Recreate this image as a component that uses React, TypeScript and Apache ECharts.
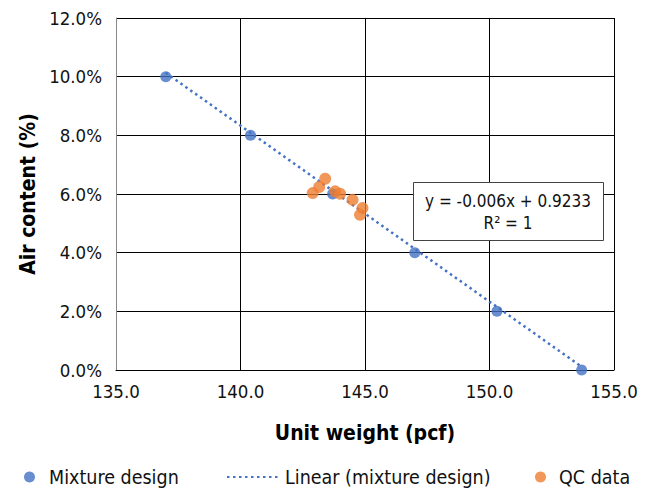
import React, { useEffect, useRef } from "react";
import * as echarts from "echarts";

const mixtureX = [137.0, 140.4, 143.7, 147.0, 150.3, 153.7];
const mixtureY = [0.10, 0.08, 0.06, 0.04, 0.02, 0.0];
const qcX = [142.9, 143.16, 143.4, 143.8, 144.0, 144.5, 144.9, 144.8];
const qcY = [0.0603, 0.0624, 0.0652, 0.0609, 0.0601, 0.058, 0.0552, 0.0529];
const slope = -0.006;
const intercept = 0.9233;
const rSquared = 1;

const FONT = "'DejaVu Sans Condensed', 'Roboto', sans-serif";
const BLUE = "#4472C4";
const ORANGE = "#ED7D31";

export default function App() {
  const ref = useRef<HTMLDivElement>(null);
  useEffect(() => {
    if (!ref.current) return;
    const chart = echarts.init(ref.current, null, { renderer: "svg" });
    const xMin = Math.min(...mixtureX);
    const xMax = Math.max(...mixtureX);
    const trend = [
      [xMin, slope * xMin + intercept],
      [xMax, slope * xMax + intercept],
    ];
    const legendText = { fontFamily: FONT, fontSize: 19.5, color: "#111", lineHeight: 20 };
    chart.setOption({
      animation: false,
      backgroundColor: "#fff",
      textStyle: { fontFamily: FONT },
      grid: { left: 116, right: 35, top: 18, bottom: 121 },
      xAxis: {
        type: "value",
        min: 135,
        max: 155,
        interval: 5,
        name: "Unit weight (pcf)",
        nameLocation: "middle",
        nameGap: 52,
        nameTextStyle: { fontFamily: FONT, fontSize: 21, fontWeight: "bold", color: "#000" },
        axisLine: { show: true, lineStyle: { color: "#000", width: 1 } },
        axisTick: { show: false },
        axisLabel: { fontFamily: FONT, fontSize: 18.5, color: "#111", margin: 12, formatter: (v: number) => v.toFixed(1) },
        splitLine: { show: true, lineStyle: { color: "#000", width: 1 } },
      },
      yAxis: {
        type: "value",
        min: 0,
        max: 0.12,
        interval: 0.02,
        name: "Air content (%)",
        nameLocation: "middle",
        nameRotate: 90,
        nameGap: 74,
        nameTextStyle: { fontFamily: FONT, fontSize: 21, fontWeight: "bold", color: "#000" },
        axisLine: { show: true, lineStyle: { color: "#888", width: 1 } },
        axisTick: { show: false },
        axisLabel: { fontFamily: FONT, fontSize: 18.5, color: "#111", margin: 14, formatter: (v: number) => (v * 100).toFixed(1) + "%" },
        splitLine: { show: true, lineStyle: { color: "#000", width: 1 } },
      },
      legend: [
        {
          data: [{ name: "Mixture design", icon: "circle" }],
          left: 24, top: 467, padding: 0, itemWidth: 11, itemHeight: 11,
          textStyle: { ...legendText, padding: [0, 0, 0, 9] },
        },
        {
          data: [{ name: "Linear (mixture design)", itemStyle: { opacity: 0 } }],
          left: 226, top: 467, padding: 0, itemWidth: 53, itemHeight: 11,
          textStyle: { ...legendText },
        },
        {
          data: [{ name: "QC data", icon: "circle" }],
          left: 535, top: 467, padding: 0, itemWidth: 11, itemHeight: 11,
          textStyle: { ...legendText, padding: [0, 0, 0, 8] },
        },
      ],
      series: [
        {
          name: "Linear (mixture design)",
          type: "line",
          data: trend,
          showSymbol: false,
          symbol: "none",
          lineStyle: { color: BLUE, width: 2.5, type: [2.5, 3.5] },
          itemStyle: { color: BLUE },
          z: 2,
        },
        {
          name: "Mixture design",
          type: "scatter",
          data: mixtureX.map((x, i) => [x, mixtureY[i]]),
          symbolSize: 11,
          itemStyle: { color: BLUE },
          z: 3,
        },
        {
          name: "QC data",
          type: "scatter",
          data: qcX.map((x, i) => [x, qcY[i]]),
          symbolSize: 12,
          itemStyle: { color: ORANGE },
          z: 4,
        },
      ],
      graphic: [
        {
          type: "rect",
          left: 413, top: 182,
          shape: { width: 190, height: 58 },
          style: { fill: "#fff", stroke: "#444", lineWidth: 1 },
          z: 10,
        },
        {
          type: "text",
          x: 508, y: 212,
          style: {
            text: `y = ${slope}x + ${intercept}\nR² = ${rSquared}`,
            fontFamily: FONT, fontSize: 17, fill: "#111",
            align: "center", verticalAlign: "middle", lineHeight: 22,
          },
          z: 11,
        },
      ],
    });
    return () => chart.dispose();
  }, []);
  return <div ref={ref} style={{ width: 649, height: 491, position: "absolute", left: 0, top: 0 }} />;
}
